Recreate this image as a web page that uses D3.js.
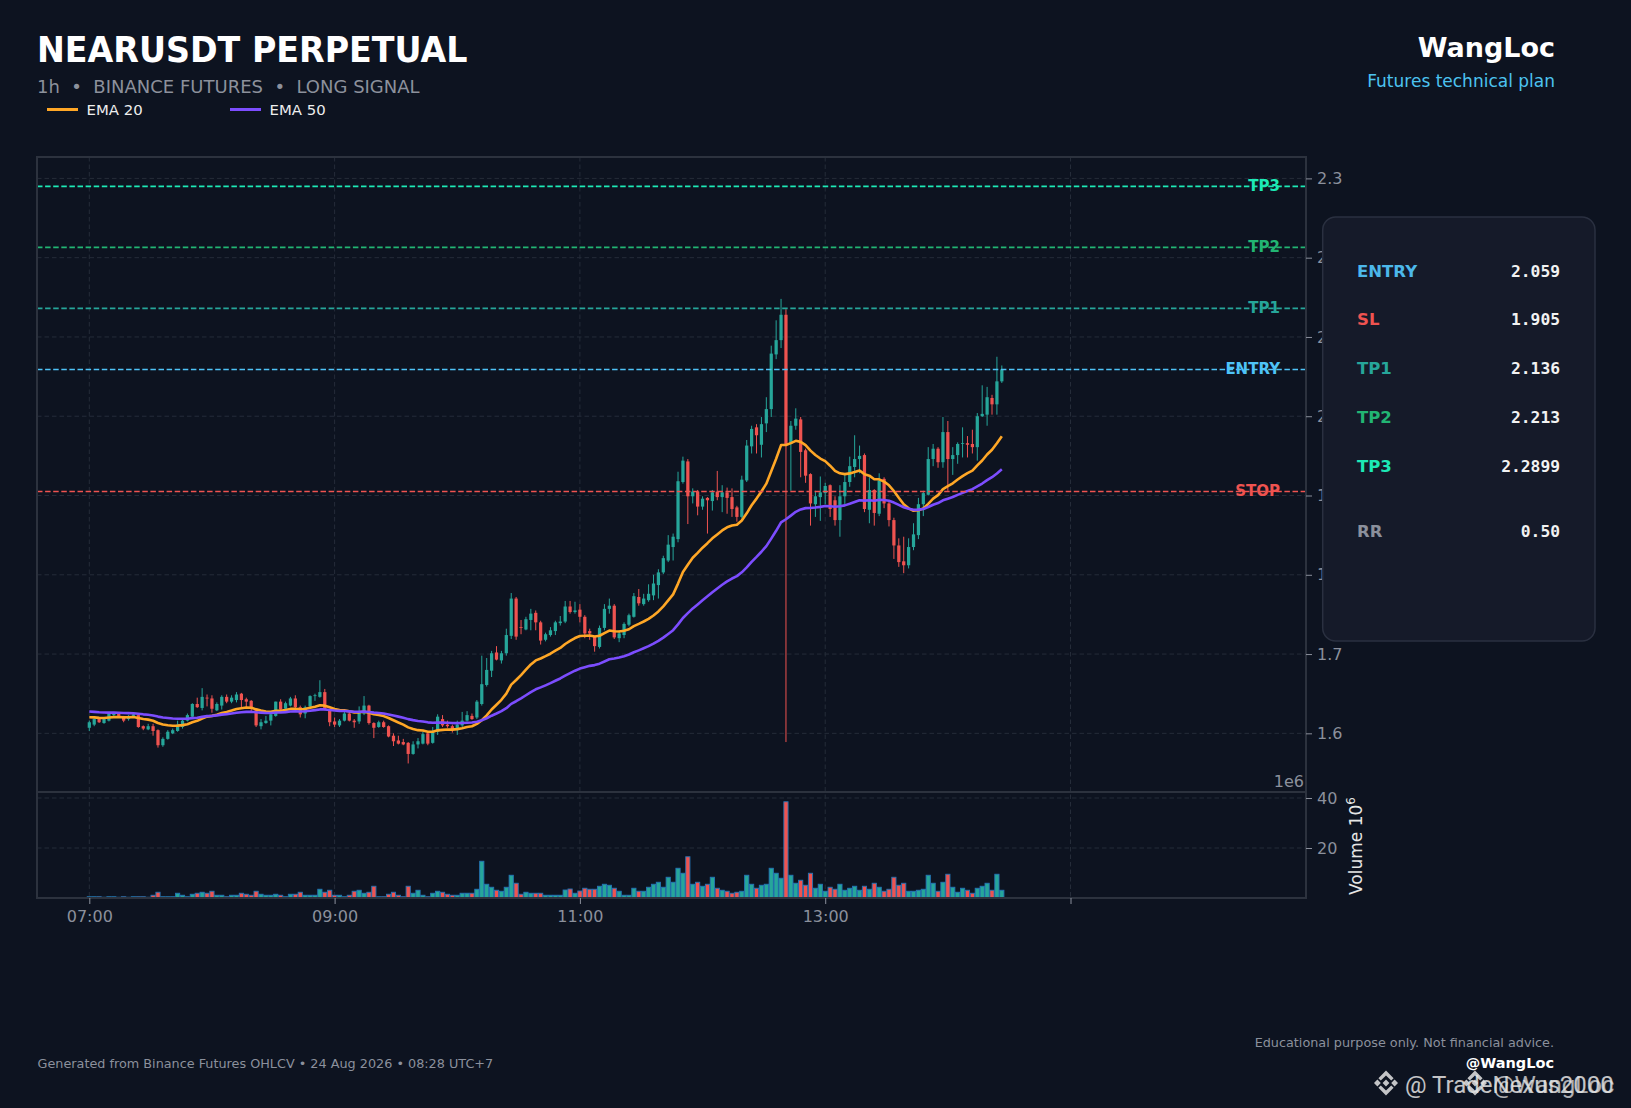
<!DOCTYPE html>
<meta charset="utf-8">
<style>
body{margin:0;background:#0d1320;}
svg text{font-family:"DejaVu Sans",sans-serif;}
</style>
<svg width="1631" height="1108"></svg>
<script src="https://d3js.org/d3.v7.min.js"></script>
<script>
// OHLCV, one entry per candle (07:00 onwards)
var opens = [1.607,1.611,1.618,1.613,1.616,1.623,1.625,1.621,1.618,1.622,
1.623,1.609,1.605,1.609,1.604,1.585,1.593,1.600,1.603,1.608,
1.616,1.621,1.637,1.632,1.645,1.644,1.629,1.635,1.646,1.640,
1.642,1.650,1.643,1.641,1.631,1.609,1.613,1.616,1.622,1.640,
1.631,1.635,1.644,1.633,1.625,1.634,1.647,1.646,1.652,1.629,
1.615,1.610,1.616,1.625,1.616,1.615,1.625,1.635,1.613,1.608,
1.614,1.609,1.597,1.591,1.589,1.588,1.574,1.586,1.587,1.600,
1.588,1.602,1.618,1.611,1.609,1.604,1.610,1.616,1.622,1.620,
1.637,1.661,1.679,1.702,1.692,1.701,1.723,1.770,1.734,1.731,
1.743,1.752,1.740,1.718,1.724,1.729,1.739,1.741,1.760,1.753,
1.756,1.747,1.729,1.722,1.709,1.733,1.757,1.761,1.720,1.724,
1.737,1.747,1.772,1.763,1.768,1.774,1.787,1.803,1.818,1.835,
1.845,1.917,1.943,1.899,1.905,1.886,1.897,1.893,1.905,1.898,
1.904,1.898,1.885,1.873,1.919,1.962,1.986,1.964,1.991,2.009,
2.078,2.096,2.128,1.965,1.988,1.996,1.957,1.927,1.889,1.898,
1.903,1.913,1.894,1.869,1.899,1.917,1.936,1.946,1.951,1.882,
1.907,1.877,1.921,1.890,1.869,1.837,1.817,1.812,1.835,1.850,
1.889,1.901,1.946,1.959,1.942,1.980,1.946,1.951,1.965,1.966,
1.965,1.961,2.000,2.002,2.023,2.015,2.044];
var highs = [1.616,1.619,1.619,1.619,1.626,1.627,1.626,1.622,1.623,1.626,
1.624,1.610,1.612,1.612,1.605,1.595,1.604,1.606,1.616,1.618,
1.625,1.638,1.645,1.657,1.649,1.648,1.639,1.648,1.649,1.648,
1.652,1.651,1.645,1.642,1.632,1.618,1.622,1.627,1.640,1.643,
1.640,1.646,1.648,1.635,1.635,1.648,1.650,1.667,1.656,1.631,
1.620,1.618,1.627,1.627,1.618,1.634,1.647,1.636,1.614,1.616,
1.616,1.610,1.600,1.597,1.593,1.589,1.590,1.594,1.602,1.602,
1.608,1.624,1.623,1.616,1.611,1.616,1.627,1.628,1.625,1.642,
1.698,1.695,1.704,1.710,1.704,1.732,1.777,1.772,1.743,1.747,
1.757,1.755,1.742,1.727,1.734,1.742,1.748,1.767,1.767,1.766,
1.763,1.749,1.732,1.723,1.736,1.763,1.770,1.763,1.730,1.740,
1.751,1.777,1.782,1.776,1.788,1.800,1.807,1.824,1.850,1.852,
1.930,1.949,1.946,1.909,1.907,1.899,1.898,1.907,1.931,1.913,
1.910,1.909,1.887,1.925,1.970,1.988,1.990,1.999,2.024,2.089,
2.121,2.148,2.135,1.994,2.010,1.999,1.959,1.928,1.906,1.924,
1.916,1.914,1.899,1.913,1.926,1.949,1.976,1.963,1.953,1.923,
1.908,1.928,1.923,1.892,1.872,1.846,1.848,1.846,1.865,1.897,
1.906,1.961,1.965,1.961,1.999,1.994,1.961,1.967,1.986,1.975,
1.983,2.004,2.039,2.037,2.027,2.075,2.064];
var lows = [1.603,1.609,1.613,1.612,1.615,1.621,1.620,1.614,1.616,1.620,
1.607,1.604,1.604,1.597,1.582,1.583,1.592,1.599,1.602,1.606,
1.615,1.620,1.632,1.629,1.634,1.626,1.628,1.630,1.638,1.638,
1.639,1.633,1.631,1.627,1.608,1.605,1.612,1.610,1.621,1.627,
1.629,1.634,1.631,1.620,1.619,1.631,1.641,1.645,1.629,1.609,
1.608,1.608,1.615,1.615,1.607,1.612,1.623,1.611,1.594,1.607,
1.607,1.595,1.584,1.586,1.585,1.562,1.573,1.581,1.586,1.585,
1.587,1.598,1.608,1.607,1.601,1.598,1.608,1.615,1.617,1.618,
1.635,1.659,1.671,1.692,1.688,1.698,1.719,1.718,1.725,1.730,
1.730,1.730,1.712,1.716,1.722,1.724,1.736,1.739,1.751,1.751,
1.740,1.720,1.718,1.703,1.707,1.730,1.751,1.719,1.715,1.720,
1.735,1.746,1.761,1.761,1.766,1.768,1.770,1.801,1.816,1.818,
1.841,1.915,1.864,1.890,1.875,1.882,1.852,1.881,1.894,1.879,
1.877,1.873,1.867,1.871,1.917,1.953,1.953,1.948,1.980,1.999,
2.072,2.086,1.589,1.906,1.983,1.923,1.916,1.862,1.873,1.868,
1.889,1.873,1.862,1.848,1.889,1.911,1.923,1.928,1.879,1.865,
1.862,1.874,1.884,1.861,1.820,1.810,1.802,1.808,1.831,1.845,
1.874,1.900,1.937,1.935,1.935,1.906,1.926,1.940,1.948,1.948,
1.953,1.944,1.999,1.988,2.002,2.002,2.042];
var closes = [1.614,1.618,1.614,1.618,1.625,1.625,1.622,1.616,1.622,1.624,
1.608,1.606,1.609,1.603,1.585,1.593,1.602,1.604,1.611,1.616,
1.623,1.637,1.633,1.646,1.644,1.631,1.637,1.646,1.640,1.645,
1.649,1.642,1.640,1.631,1.610,1.614,1.616,1.624,1.640,1.630,
1.638,1.644,1.633,1.624,1.633,1.647,1.648,1.652,1.630,1.614,
1.611,1.616,1.625,1.616,1.614,1.627,1.635,1.613,1.607,1.614,
1.608,1.596,1.590,1.587,1.586,1.574,1.586,1.590,1.599,1.587,
1.602,1.621,1.610,1.609,1.604,1.611,1.616,1.623,1.618,1.640,
1.662,1.680,1.701,1.693,1.701,1.724,1.770,1.722,1.733,1.744,
1.751,1.740,1.717,1.725,1.730,1.740,1.741,1.760,1.753,1.755,
1.747,1.726,1.726,1.710,1.733,1.757,1.761,1.721,1.726,1.738,
1.749,1.773,1.764,1.770,1.776,1.789,1.803,1.821,1.838,1.848,
1.918,1.944,1.899,1.905,1.886,1.896,1.894,1.904,1.898,1.904,
1.897,1.883,1.873,1.920,1.963,1.984,1.976,1.990,2.009,2.079,
2.096,2.128,1.965,1.988,1.997,1.955,1.925,1.890,1.899,1.904,
1.912,1.883,1.869,1.899,1.917,1.937,1.946,1.950,1.883,1.907,
1.878,1.919,1.890,1.869,1.837,1.816,1.812,1.835,1.851,1.889,
1.903,1.946,1.959,1.942,1.980,1.946,1.951,1.965,1.966,1.964,
1.961,2.000,2.003,2.024,2.015,2.044,2.059];
// volume in millions
var volumes = [0.5,0.5,0.5,0.3,0.5,0.5,0.3,0.5,0.3,0.5,0.5,0.5,0.3,1.1,
2.3,0.5,0.5,0.5,1.9,1.1,0.5,1.5,1.9,2.3,1.9,2.7,1.1,1.1,
0.5,1.1,1.1,1.9,1.5,1.1,2.7,1.5,1.1,1.1,1.5,1.1,0.5,1.5,
1.5,2.3,1.1,1.1,1.1,3.5,2.3,3.1,1.1,1.1,0.5,1.1,2.7,3.1,
1.9,2.3,4.7,0.5,0.5,1.5,2.3,1.1,0.5,4.7,1.9,3.1,1.1,0.5,
1.9,2.7,2.3,1.5,1.1,1.1,1.9,1.9,1.9,3.5,14.7,5.5,4.3,3.1,
2.7,4.3,9.1,5.9,1.5,2.3,1.9,1.9,1.9,1.1,
1.1,1.1,1.1,3.2,3.6,1.9,2.8,3.9,3.5,3.5,4.7,5.5,5.1,
3.9,2.7,1.1,1.1,3.9,2.7,2.7,4.3,5.5,6.3,4.3,8.3,6.3,11.9,
9.9,16.5,5.5,6.3,4.7,5.5,8.3,3.9,3.1,2.7,1.9,2.3,2.7,9.1,
5.5,3.9,5.1,5.5,11.9,9.9,7.9,38.5,9.1,5.9,7.1,5.1,9.9,3.9,
5.5,2.7,4.3,3.5,5.5,3.1,3.9,4.7,3.1,4.7,3.5,5.9,4.3,2.7,
3.5,8.3,5.1,5.9,2.7,2.7,3.1,3.5,9.1,5.9,2.7,6.3,9.5,4.3,
2.3,3.9,3.1,1.9,3.9,4.7,5.9,3.1,9.5,3.1];

var yTicks = [1.6,1.7,1.8,1.9,2.0,2.1,2.2,2.3];
var volTicks = [20,40];
var xTickIdx = [0,50,100,150,200];
var xTickLabels = ["07:00","09:00","11:00","13:00",""];

var levelNames = ["TP3","TP2","TP1","ENTRY","STOP"];
var levelValues = [2.2899,2.213,2.136,2.059,1.905];
var levelColors = ["#1de9b6","#22b573","#26a69a","#4fc3f7","#ef5350"];

var planLabels = ["ENTRY","SL","TP1","TP2","TP3","RR"];
var planValues = ["2.059","1.905","2.136","2.213","2.2899","0.50"];
var planColors = ["#4cb8ea","#ef5350","#26a69a","#22b573","#1de9b6","#8b909c"];

var emaPeriods = [20,50];
var emaSeeds = [1.621,1.628];   // EMA level where the window opens
var emaColors = ["#ffa726","#7c4dff"];

var UP = "#26a69a", DOWN = "#ef5350", GRAY = "#8b909c";

var svg = d3.select("svg");
svg.append("rect").attr("width",1631).attr("height",1108).attr("fill","#0d1320");

var L = 37, R = 1306, T = 157, M = 792, B = 898;
var x = d3.scaleLinear().domain([-10.66, 248]).range([L, R]);
var y = d3.scaleLinear().domain([1.526, 2.327]).range([M, T]);
var yv = d3.scaleLinear().domain([0, 42.4]).range([B, M]);

var candles = closes.map(function(c, i){
  return {i: i, o: opens[i], h: highs[i], l: lows[i], c: c, v: volumes[i]};
});

svg.append("clipPath").attr("id","clipMain").append("rect")
  .attr("x",L).attr("y",T).attr("width",R-L).attr("height",M-T);

// grid
var grid = svg.append("g").attr("stroke","#252c39").attr("stroke-width",1).attr("stroke-dasharray","4.5,3");
grid.selectAll(".gx").data(xTickIdx).enter().append("line").attr("class","gx")
  .attr("x1",function(d){return x(d)}).attr("x2",function(d){return x(d)}).attr("y1",T).attr("y2",B);
grid.selectAll(".gy").data(yTicks).enter().append("line").attr("class","gy")
  .attr("x1",L).attr("x2",R).attr("y1",function(d){return y(d)}).attr("y2",function(d){return y(d)});
grid.selectAll(".gv").data(volTicks).enter().append("line").attr("class","gv")
  .attr("x1",L).attr("x2",R).attr("y1",function(d){return yv(d)}).attr("y2",function(d){return yv(d)});

// volume
var step = x(1) - x(0);
svg.append("g").selectAll("rect").data(candles).enter().append("rect")
  .attr("x",function(d){return x(d.i) - step*0.43})
  .attr("width",step*0.86)
  .attr("y",function(d){return yv(d.v)})
  .attr("height",function(d){return B - yv(d.v)})
  .attr("fill",function(d){return d.c >= d.o ? UP : DOWN})
  .attr("stroke","#2474b5").attr("stroke-width",0.9);

// candles
var cg = svg.append("g").attr("clip-path","url(#clipMain)");
cg.selectAll(".wick").data(candles).enter().append("line").attr("class","wick")
  .attr("x1",function(d){return x(d.i)}).attr("x2",function(d){return x(d.i)})
  .attr("y1",function(d){return y(d.h)}).attr("y2",function(d){return y(d.l)})
  .attr("stroke",function(d){return d.c >= d.o ? UP : DOWN}).attr("stroke-width",1);
cg.selectAll(".body").data(candles).enter().append("rect").attr("class","body")
  .attr("x",function(d){return x(d.i) - step*0.33})
  .attr("width",step*0.66)
  .attr("y",function(d){return y(Math.max(d.o,d.c))})
  .attr("height",function(d){return Math.max(0.8, Math.abs(y(d.o) - y(d.c)))})
  .attr("fill",function(d){return d.c >= d.o ? UP : DOWN});

// EMA lines
function ema(vals, n, seed){
  var k = 2/(n+1), prev = seed;
  return vals.map(function(v){ prev = v*k + prev*(1-k); return prev; });
}
var line = d3.line().x(function(d,i){return x(i)}).y(function(d){return y(d)});
emaPeriods.forEach(function(n, j){
  cg.append("path").datum(ema(closes, n, emaSeeds[j]))
    .attr("d",line).attr("fill","none").attr("stroke",emaColors[j]).attr("stroke-width",2.6)
    .attr("stroke-linejoin","round");
});

// plan levels
var lv = svg.append("g");
levelValues.forEach(function(v, j){
  lv.append("text").attr("x",1280).attr("y",y(v)).attr("dy","0.3em")
    .attr("text-anchor","end").attr("font-weight","bold").attr("font-size",15)
    .attr("fill",levelColors[j]).text(levelNames[j]);
  lv.append("line").attr("x1",L).attr("x2",R).attr("y1",y(v)).attr("y2",y(v))
    .attr("stroke",levelColors[j]).attr("stroke-width",1.6).attr("stroke-dasharray","5.5,2.6");
});

// frames
svg.append("rect").attr("x",L).attr("y",T).attr("width",R-L).attr("height",M-T)
  .attr("fill","none").attr("stroke","#2c323e").attr("stroke-width",2);
svg.append("rect").attr("x",L).attr("y",M).attr("width",R-L).attr("height",B-M)
  .attr("fill","none").attr("stroke","#2c323e").attr("stroke-width",2);

// axes
function styleAxis(g){
  g.attr("font-size",16).attr("font-family","DejaVu Sans");
  g.select(".domain").remove();
  g.selectAll(".tick line").attr("stroke",GRAY);
  g.selectAll(".tick text").attr("fill",GRAY);
}
svg.append("g").attr("transform","translate("+R+",0)")
  .call(d3.axisRight(y).tickValues(yTicks).tickFormat(d3.format(".1f")).tickSize(6).tickPadding(5))
  .call(styleAxis);
svg.append("g").attr("transform","translate("+R+",0)")
  .call(d3.axisRight(yv).tickValues(volTicks).tickFormat(d3.format("d")).tickSize(6).tickPadding(5))
  .call(styleAxis);
svg.append("g").attr("transform","translate(0,"+B+")")
  .call(d3.axisBottom(x).tickValues(xTickIdx).tickFormat(function(d,i){return xTickLabels[i]}).tickSize(6).tickPadding(7))
  .call(styleAxis);

svg.append("text").attr("x",1304).attr("y",787).attr("text-anchor","end")
  .attr("font-size",16).attr("fill",GRAY).text("1e6");
var vl = svg.append("text").attr("transform","translate(1362,846) rotate(-90)")
  .attr("text-anchor","middle").attr("font-size",17).attr("fill","#e6e6e6");
vl.append("tspan").text("Volume  10");
vl.append("tspan").attr("dy",-7).attr("font-size",12).text("6");

// header
svg.append("text").attr("transform","translate(37,62) scale(1,1.06)")
  .attr("font-size",33.3).attr("font-weight","bold").attr("fill","#ffffff").text("NEARUSDT PERPETUAL");
svg.append("text").attr("x",37).attr("y",93).attr("font-size",18).attr("fill","#8c919c")
  .attr("xml:space","preserve").style("white-space","pre")
  .text("1h  \u2022  BINANCE FUTURES  \u2022  LONG SIGNAL");
var legendX = [47, 230];
emaPeriods.forEach(function(n, j){
  svg.append("line").attr("x1",legendX[j]).attr("x2",legendX[j]+31).attr("y1",109.5).attr("y2",109.5)
    .attr("stroke",emaColors[j]).attr("stroke-width",3);
  svg.append("text").attr("x",legendX[j]+39.5).attr("y",115).attr("font-size",14.9)
    .attr("fill","#eeeeee").text("EMA " + n);
});
svg.append("text").attr("x",1555).attr("y",57).attr("text-anchor","end")
  .attr("font-size",27).attr("font-weight","bold").attr("fill","#ffffff").text("WangLoc");
svg.append("text").attr("x",1555).attr("y",87).attr("text-anchor","end")
  .attr("font-size",17).attr("fill","#4cc3f0").text("Futures technical plan");

// plan box
svg.append("rect").attr("x",1322.7).attr("y",217).attr("width",272.3).attr("height",424).attr("rx",13)
  .attr("fill","#151a29").attr("stroke","#2a3040").attr("stroke-width",1.5);
planLabels.forEach(function(lb, j){
  var ry = 276.7 + j*48.75 + (j == 5 ? 16.2 : 0);
  svg.append("text").attr("x",1357).attr("y",ry).attr("font-size",16.5).attr("font-weight","bold")
    .attr("fill",planColors[j]).text(lb);
  svg.append("text").attr("x",1560).attr("y",ry).attr("text-anchor","end").attr("font-size",16.3)
    .attr("font-weight","bold").style("font-family","'DejaVu Sans Mono',monospace")
    .attr("fill","#f2f2f2").text(planValues[j]);
});

// footer
svg.append("text").attr("x",37.5).attr("y",1068).attr("font-size",12.8).attr("fill",GRAY)
  .text("Generated from Binance Futures OHLCV \u2022 24 Aug 2026 \u2022 08:28 UTC+7");
svg.append("text").attr("x",1554).attr("y",1047).attr("text-anchor","end").attr("font-size",12.8)
  .attr("fill",GRAY).text("Educational purpose only. Not financial advice.");
svg.append("text").attr("x",1554).attr("y",1068).attr("text-anchor","end").attr("font-size",14.5)
  .attr("font-weight","bold").attr("fill","#ffffff").text("@WangLoc");

// watermark
function logo(cx, cy){
  var g = svg.append("g").attr("transform","translate("+cx+","+cy+")").attr("fill","#e4e4e4").attr("opacity",0.85);
  var d = "M0,-3.4L3.4,0L0,3.4L-3.4,0Z" +
    "M-8.6,-3.4L-5.2,0L-8.6,3.4L-12,0Z M8.6,-3.4L12,0L8.6,3.4L5.2,0Z" +
    "M0,-12.4L7.6,-4.8L5.2,-2.4L0,-7.6L-5.2,-2.4L-7.6,-4.8Z" +
    "M0,12.4L7.6,4.8L5.2,2.4L0,7.6L-5.2,2.4L-7.6,4.8Z";
  g.append("path").attr("d",d);
}
logo(1386, 1083);
logo(1475, 1083);
svg.append("text").attr("x",1405).attr("y",1093).attr("font-size",24).style("font-family","Roboto")
  .attr("fill","#e4e4e4").attr("opacity",0.85).text("@ TradeNexus2000");
svg.append("text").attr("x",1493).attr("y",1093).attr("font-size",24).style("font-family","Roboto")
  .attr("fill","#e4e4e4").attr("opacity",0.75).text("@WangLoc");
</script>
</html>
